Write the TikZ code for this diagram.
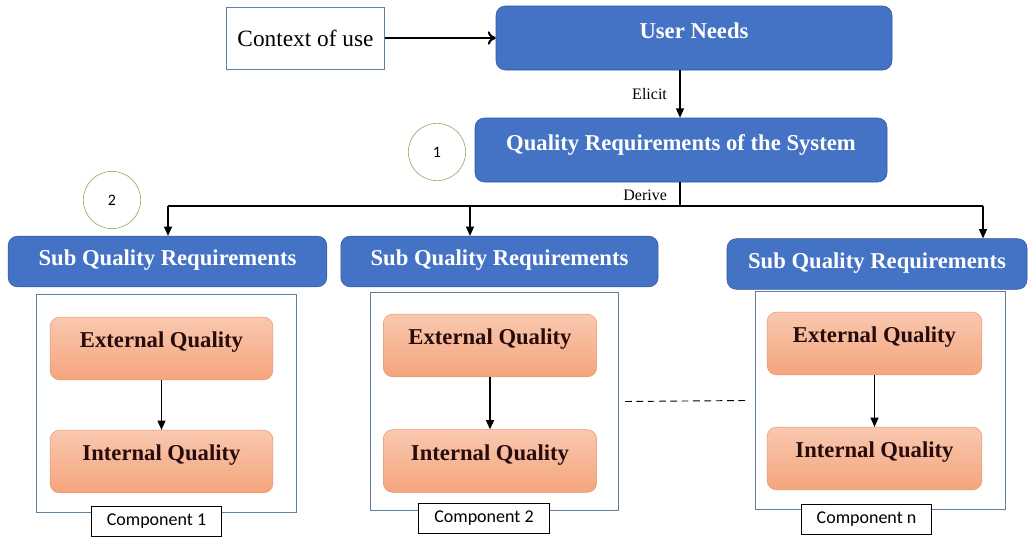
\documentclass[tikz,border=0pt]{standalone}
\usepackage{fontspec}
\setmainfont{Liberation Serif}
\newfontfamily\compfont{Carlito}
\usetikzlibrary{arrows.meta,positioning}

\definecolor{reqblue}{RGB}{68,114,196}
\definecolor{reqedge}{RGB}{50,88,158}
\definecolor{qualtop}{RGB}{249,200,175}
\definecolor{qualbottom}{RGB}{244,165,125}
\definecolor{qualedge}{RGB}{232,150,110}
\definecolor{qualtext}{RGB}{40,12,12}
\definecolor{frameedge}{RGB}{95,128,160}
\definecolor{markgreen}{RGB}{140,178,112}

\tikzset{
  reqbox/.style={draw=reqedge, fill=reqblue, rounded corners=7pt, text=white,
    inner sep=0pt, minimum height=48pt, text height=12pt, text depth=12pt,
    font=\bfseries\fontsize{17}{20}\selectfont},
  subbox/.style={reqbox, minimum height=38pt, text height=12pt, text depth=6pt},
  qualbox/.style={draw=qualedge, top color=qualtop, bottom color=qualbottom,
    rounded corners=7pt, text=qualtext, inner sep=0pt, minimum height=47pt,
    text height=12pt, text depth=13pt, font=\bfseries\fontsize{17}{20}\selectfont},
  compframe/.style={draw=frameedge, line width=0.7pt, inner sep=0pt},
  complabel/.style={draw=black, fill=white, line width=0.6pt, inner sep=0pt,
    minimum width=98pt, minimum height=22pt, font=\compfont\fontsize{13.5}{15}\selectfont},
  stepmark/.style={circle, draw=markgreen, line width=0.5pt, fill=white,
    minimum size=43pt, inner sep=0pt, font=\compfont\fontsize{12}{14}\selectfont},
  flow/.style={-{Triangle[length=7pt,width=6pt]}, line width=1pt},
}

\begin{document}
\begin{tikzpicture}[x=0.75pt, y=-0.75pt]
  \useasboundingbox (0,0) rectangle (1031,536);

  % top row
  \node[draw=frameedge, line width=0.7pt, minimum width=119pt, minimum height=46.5pt,
    inner sep=0pt, font=\fontsize{17.5}{20}\selectfont] (ctx) at (305.5,38) {Context of use};
  \node[reqbox, minimum width=297pt] (needs) at (694,38) {User Needs};
  \node[reqbox, minimum width=309pt] (sysreq) at (681,150) {Quality Requirements of the System};
  \node[stepmark] (mark1) at (437,152) {1};
  \node[stepmark] (mark2) at (112,200) {2};

  \draw[-{To[length=6pt,width=10pt]}, line width=1.6pt] (ctx) -- (needs);
  \draw[flow] (needs.south -| 680,0) -- (sysreq.north -| 680,0)
    node[midway, left=6pt, font=\fontsize{12}{14}\selectfont] {Elicit};

  % sub requirements
  \node[subbox, minimum width=239pt] (sub1) at (167.5,261.5) {Sub Quality Requirements};
  \node[subbox, minimum width=238pt] (sub2) at (499.5,261.5) {Sub Quality Requirements};
  \node[subbox, minimum width=225pt] (sub3) at (877,264) {Sub Quality Requirements};

  \coordinate (split) at (680,206);
  \coordinate (d1) at (168,206);
  \coordinate (d2) at (470,206);
  \coordinate (d3) at (983,206);
  \draw[line width=1pt] (sysreq.south -| split) -- (split)
    node[pos=0.55, left=6pt, font=\fontsize{12}{14}\selectfont] {Derive};
  \draw[line width=1pt] (d1) -- (d3);
  \draw[flow] (d1) -- (d1 |- sub1.north);
  \draw[flow] (d2) -- (d2 |- sub2.north);
  \draw[flow] (d3) -- (d3 |- sub3.north);

  % components
  \node[compframe, minimum width=195pt, minimum height=163.5pt] (frame1) at (166,403) {};
  \node[compframe, minimum width=186pt, minimum height=163pt] (frame2) at (494,401.5) {};
  \node[compframe, minimum width=188pt, minimum height=164pt] (frame3) at (880.5,400.5) {};

  \node[qualbox, minimum width=167pt] (ext1) at (161.5,348.5) {External Quality};
  \node[qualbox, minimum width=167pt] (int1) at (161.5,461.5) {Internal Quality};
  \node[qualbox, minimum width=160pt] (ext2) at (490,345.5) {External Quality};
  \node[qualbox, minimum width=160pt] (int2) at (490,461) {Internal Quality};
  \node[qualbox, minimum width=161pt] (ext3) at (874.5,343.5) {External Quality};
  \node[qualbox, minimum width=161pt] (int3) at (874.5,458.5) {Internal Quality};

  \draw[flow] (ext1) -- (int1);
  \draw[flow] (ext2) -- (int2);
  \draw[flow] (ext3) -- (int3);

  \node[complabel] (comp1) at (156.5,521.5) {Component 1};
  \node[complabel] (comp2) at (484,518.5) {Component 2};
  \node[complabel] (compn) at (866.5,519.5) {Component n};

  \draw[dashed, line width=0.7pt, dash pattern=on 5pt off 3.5pt]
    ([xshift=5pt]frame2.east) -- ([xshift=-7pt]frame3.west);
\end{tikzpicture}
\end{document}
